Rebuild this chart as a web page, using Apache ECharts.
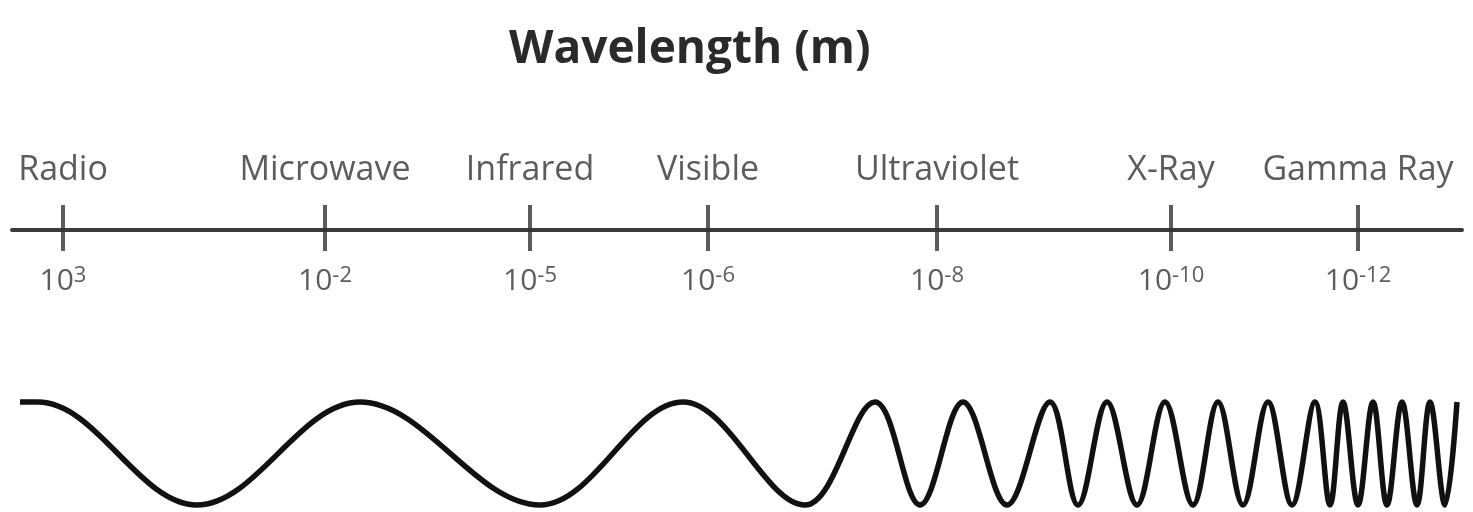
<!DOCTYPE html>
<html>
<head>
<meta charset="utf-8">
<title>Wavelength</title>
<style>
  html, body { margin: 0; padding: 0; background: #fff; }
  .chart { width: 1473px; height: 512px; }
</style>
<script src="https://cdn.jsdelivr.net/npm/echarts@6/dist/echarts.min.js"></script>
</head>
<body>
<div class="chart"></div>
<script>
// band names and where each sits along the scale (0..1473)
let bands = [ "Radio", "Microwave", "Infrared", "Visible", "Ultraviolet", "X-Ray", "Gamma Ray" ];
let bandPos = [ 63, 325, 530, 708, 937, 1171, 1358 ];
let expBase = "10";
let expPower = [ "3", "-2", "-5", "-6", "-8", "-10", "-12" ];

// wave crests (1) and troughs (-1), left to right
let waveX = [ 20, 38, 197, 360, 540, 683, 805, 875, 920, 963, 1007, 1050, 1078, 1107, 1137, 1165, 1193,
  1218, 1243, 1268, 1292, 1315, 1330, 1343, 1358, 1373, 1387, 1402, 1417, 1430, 1445, 1457 ];
let waveY = [ 1, 1, -1, 1, -1, 1, -1, 1, -1, 1, -1, 1, -1, 1, -1, 1, -1,
  1, -1, 1, -1, 1, -1, 1, -1, 1, -1, 1, -1, 1, -1, 1 ];

( function ()
{
  let myChart = echarts.init( document.querySelector( '.chart' ) );
  let textColor = '#333';

  let option = {
    animation: false,
    backgroundColor: '#fff',
    title: {
      text: 'Wavelength (m)',
      left: 504,
      top: 22,
      textStyle: {
        fontFamily: 'Open Sans',
        fontSize: 46,
        fontWeight: 'bold',
        color: '#2a2a2a'
      }
    },
    grid: [
      { left: 12, right: 11, top: 180, height: 100 },
      { left: 0, right: 0, top: 402, height: 103 }
    ],
    xAxis: [
      {
        type: 'value', gridIndex: 0, min: 12, max: 1462,
        axisLine: { show: true, onZero: true, lineStyle: { color: '#3a3a3a', width: 4 } },
        axisTick: { show: false },
        axisLabel: { show: false },
        splitLine: { show: false }
      },
      {
        type: 'value', gridIndex: 1, min: 0, max: 1473, show: false
      }
    ],
    yAxis: [
      { type: 'value', gridIndex: 0, min: -1, max: 1, show: false },
      { type: 'value', gridIndex: 1, min: -1, max: 1, show: false }
    ],
    series: [
      {
        // tick marks with the band names above
        type: 'scatter',
        xAxisIndex: 0,
        yAxisIndex: 0,
        clip: false,
        symbol: 'rect',
        symbolSize: [ 4, 46 ],
        symbolOffset: [ 0, -2 ],
        itemStyle: { color: '#333' },
        label: {
          show: true,
          position: 'top',
          distance: 18,
          formatter: '{b}',
          fontFamily: 'Open Sans',
          fontSize: 34,
          color: textColor
        },
        data: bandPos.map( function ( x, i ) { return { name: bands[ i ], value: [ x, 0 ] }; } )
      },
      {
        // powers of ten under the ticks
        type: 'scatter',
        xAxisIndex: 0,
        yAxisIndex: 0,
        clip: false,
        symbol: 'rect',
        symbolSize: [ 4, 46 ],
        symbolOffset: [ 0, -2 ],
        itemStyle: { color: 'rgba(0,0,0,0)' },
        label: {
          show: true,
          position: 'bottom',
          distance: 14,
          formatter: function ( p )
          {
            return '{base|' + expBase + '}{sup|' + expPower[ p.dataIndex ] + '}';
          },
          rich: {
            base: { fontFamily: 'Open Sans', fontSize: 30, lineHeight: 32, color: textColor },
            sup: { fontFamily: 'Open Sans', fontSize: 22, lineHeight: 24, padding: [ 0, 0, 10, 0 ], color: textColor }
          }
        },
        data: bandPos.map( function ( x ) { return [ x, 0 ]; } )
      },
      {
        type: 'line',
        xAxisIndex: 1,
        yAxisIndex: 1,
        clip: false,
        smooth: 0.36,
        symbol: 'none',
        lineStyle: { color: '#111', width: 5.5 },
        data: waveX.map( function ( x, i ) { return [ x, waveY[ i ] ]; } )
      }
    ]
  };
  myChart.setOption( option );
  window.addEventListener( "resize", function ()
  {
    myChart.resize();
  } );
} )();
</script>
</body>
</html>
